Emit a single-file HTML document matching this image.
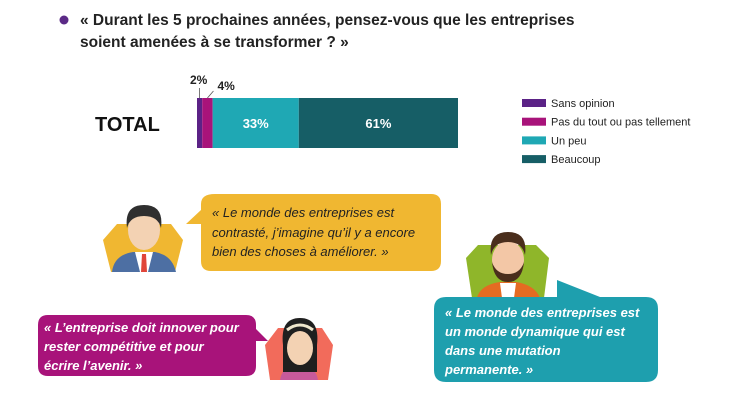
<!DOCTYPE html>
<html><head><meta charset="utf-8"><style>
html,body{margin:0;padding:0;background:#fff;}
svg{display:block;font-family:"Liberation Sans",sans-serif;}
</style></head><body>
<svg id="chart" width="754" height="405" viewBox="0 0 754 405">
<circle cx="64" cy="20" r="4.5" fill="#5b2a86"/>
<text x="80" y="25" font-size="15.5" font-weight="bold" fill="#222">« Durant les 5 prochaines années, pensez-vous que les entreprises</text>
<text x="80" y="47" font-size="15.5" font-weight="bold" fill="#222">soient amenées à se transformer ? »</text>
<text x="95" y="131" font-size="20" font-weight="bold" fill="#111">TOTAL</text>
<g id="bars"></g>
<g id="legend"></g>

<path d="M215 194 H431 Q441 194 441 204 V261 Q441 271 431 271 H211 Q201 271 201 261 V224 L186 224 L201 210 V204 Q201 194 215 194Z" fill="#f0b731"/>
<g font-size="13" font-style="italic" fill="#222">
<text x="212" y="217">« Le monde des entreprises est</text>
<text x="212" y="237">contrasté, j’imagine qu’il y a encore</text>
<text x="212" y="256">bien des choses à améliorer. »</text>
</g>
<g>
<polygon points="103,240 117,224 171,224 183,240 175,272 111,272" fill="#f0b731"/>
<path d="M112 272 Q114 255 133 252 H155 Q172 255 176 272Z" fill="#4d6fa3"/>
<path d="M135 252 H153 L148 272 H140Z" fill="#fff"/>
<path d="M142 254 H146 L147 272 H141Z" fill="#e0463a"/>
<ellipse cx="144" cy="230" rx="16" ry="20" fill="#f3d2b3"/>
<path d="M127 228 Q124 205 144 205 Q164 205 161 228 Q158 216 144 216 Q130 216 127 228Z" fill="#2f2f2f"/>
</g>

<path d="M48 315 H246 Q256 315 256 325 V329 L268 341 L256 341 V366 Q256 376 246 376 H48 Q38 376 38 366 V325 Q38 315 48 315Z" fill="#a8137a"/>
<g font-size="13" font-style="italic" font-weight="bold" fill="#fff">
<text x="44" y="332">« L’entreprise doit innover pour</text>
<text x="44" y="351">rester compétitive et pour</text>
<text x="44" y="370">écrire l’avenir. »</text>
</g>
<g>
<polygon points="265,345 278,328 322,328 333,345 328,380 270,380" fill="#f26b5b"/>
<path d="M280 380 Q282 366 299 365 Q316 366 318 380Z" fill="#c75a9b"/>
<path d="M283 345 Q280 318 300 318 Q320 318 317 345 V372 H283Z" fill="#1f1f1f"/>
<ellipse cx="300" cy="348" rx="13" ry="17" fill="#f3d2b3"/>
<path d="M287 330 Q300 320 313 330" stroke="#eee6cc" stroke-width="3" fill="none"/>
</g>

<g>
<polygon points="466,258 478,245 536,245 549,258 544,298 472,298" fill="#8fb62a"/>
<path d="M477 298 Q480 285 500 282 H516 Q535 285 540 298Z" fill="#e46b22"/>
<path d="M500 283 H516 L514 298 H502Z" fill="#fff"/>
<ellipse cx="508" cy="260" rx="16" ry="19" fill="#f3c7a6"/>
<path d="M492 262 Q494 282 508 282 Q522 282 524 262 Q520 274 508 274 Q496 274 492 262Z" fill="#4a2e1c"/>
<path d="M491 255 Q488 232 508 232 Q528 232 525 255 Q522 242 508 242 Q494 242 491 255Z" fill="#4a2e1c"/>
</g>
<path d="M446 297 H557 L557 280 L600 297 H646 Q658 297 658 309 V370 Q658 382 646 382 H446 Q434 382 434 370 V309 Q434 297 446 297Z" fill="#1e9fae"/>
<g font-size="13" font-style="italic" font-weight="bold" fill="#fff">
<text x="445" y="317">« Le monde des entreprises est</text>
<text x="445" y="336">un monde dynamique qui est</text>
<text x="445" y="355">dans une mutation</text>
<text x="445" y="374">permanente. »</text>
</g>
</svg>
<script>
const categories = ["Sans opinion","Pas du tout ou pas tellement","Un peu","Beaucoup"];
const values = [2,4,33,61];
const labels = ["2%","4%","33%","61%"];
const colors = ["#5b2286","#a8137a","#1fa8b4","#165e66"];
const NS="http://www.w3.org/2000/svg";
const x0=197, x1=458, barY=98, barH=50;
const total=values.reduce((a,b)=>a+b,0);
const xs=v=>(v/total)*(x1-x0);
const bars=document.getElementById('bars');
function mk(tag,attrs,parent){const e=document.createElementNS(NS,tag);for(const k in attrs)e.setAttribute(k,attrs[k]);parent.appendChild(e);return e;}
let cx=x0;
values.forEach((v,i)=>{
  const w=xs(v);
  const r=mk('rect',{x:cx,y:barY,width:w,height:barH,fill:colors[i]},bars);
  
  
  if(w>30){
    const t=mk('text',{x:cx+w/2,y:barY+barH/2+5,'text-anchor':'middle','font-size':13,'font-weight':'bold',fill:'#fff'},bars);
    t.textContent=labels[i];
    
    
  } else {
    const mid=cx+w/2;
    const lx = i===0 ? mid-1 : mid+10;
    const ly = i===0 ? 84 : 90;
    const l=mk('line',{x1:mid,y1:barY,x2:i===0?mid:mid+6,y2:i===0?88:91,stroke:'#555','stroke-width':0.8},bars);
    
    
    const t=mk('text',{x:lx,y:ly,'text-anchor':i===0?'middle':'start','font-size':12,'font-weight':'bold',fill:'#222'},bars);
    t.textContent=labels[i];
    
    
  }
  cx+=w;
});
const lg=document.getElementById('legend');
categories.forEach((c,i)=>{
  const y=99+i*18.7;
  const r=mk('rect',{x:522,y:y,width:24,height:8,fill:colors[i]},lg);
  
  
  const t=mk('text',{x:551,y:y+8,'font-size':11,fill:'#222'},lg);
  t.textContent=c;
  
  
});
</script>
</body></html>
